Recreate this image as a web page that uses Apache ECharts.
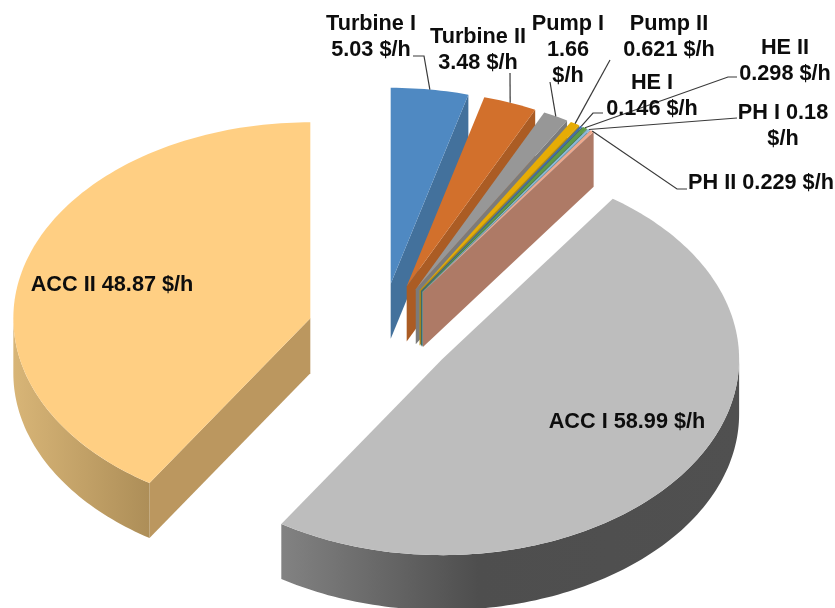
<!DOCTYPE html>
<html>
<head>
<meta charset="utf-8">
<title>Cost rate pie</title>
<script src="https://cdn.jsdelivr.net/npm/echarts@6/dist/echarts.min.js"></script>
<style>
  html, body { margin: 0; padding: 0; background: #fff; }
  #chart { width: 835px; height: 608px; }
</style>
</head>
<body>
<div id="chart"></div>
<script>
// values, clockwise from 12 o'clock
const categories = ['Turbine I', 'Turbine II', 'Pump I', 'Pump II', 'HE I', 'HE II', 'PH I', 'PH II', 'ACC I', 'ACC II']
const costRates = [5.03, 3.48, 1.66, 0.621, 0.146, 0.298, 0.18, 0.229, 58.99, 48.87]
const unit = '$/h'
// how each label wraps: number of words on each line
const labelWraps = [[2, 2], [2, 2], [2, 1, 1], [2, 2], [2, 2], [2, 2], [3, 1], [4], [4], [4]]

const topColors = ['#4f89c2', '#d2702c', '#979797', '#e6ac05', '#3f6cb0', '#5f9b45', '#8ab7dc', '#efa98c', '#bdbdbd', '#ffcf83']
const wallColors = ['#43719c', '#ab5c24', '#7b7b7b', '#b98d05', '#335a90', '#4d7d38', '#7095b2', '#ae7a66', '#6a6a6a', '#bb975f']
const rimStops = {
  8: [[0, '#828282'], [0.43, '#4e4e4e'], [1, '#505050']],
  9: [[0, '#d8b577'], [1, '#ad8e58']]
}

// pie geometry
const cx = 381, cy = 332, rx = 297, ry = 196, depth = 55, explode = 0.248
// label centre and first line middle, then the knee points of each leader line
const labelLayout = [
  { x: 371, y: 24, leader: [[413, 56], [424, 56]] },
  { x: 478, y: 37, leader: [[510, 73]] },
  { x: 568, y: 24, leader: [[550, 82]] },
  { x: 669, y: 24, leader: [[610, 60]] },
  { x: 652, y: 83, leader: [[603, 113], [593, 113]] },
  { x: 785, y: 48, leader: [[737, 77], [728, 77]] },
  { x: 783, y: 113, leader: [[737, 118]] },
  { x: 761, y: 183, leader: [[687, 189], [677, 189]] },
  { x: 627, y: 422, leader: [] },
  { x: 112, y: 285, leader: [] }
]
const lineHeight = 26

const total = costRates.reduce((a, b) => a + b, 0)
const angles = []
let acc = 0
costRates.forEach(v => {
  const start = acc / total * Math.PI * 2
  acc += v
  angles.push([start, acc / total * Math.PI * 2])
})

function centerOf(i) {
  const mid = (angles[i][0] + angles[i][1]) / 2
  return [cx + explode * rx * Math.sin(mid), cy - explode * ry * Math.cos(mid)]
}
function rimPoint(c, a, dy) {
  return [c[0] + rx * Math.sin(a), c[1] - ry * Math.cos(a) + (dy || 0)]
}
function arc(c, a0, a1, dy) {
  const n = Math.max(2, Math.ceil((a1 - a0) / 0.02))
  const pts = []
  for (let k = 0; k <= n; k++) pts.push(rimPoint(c, a0 + (a1 - a0) * k / n, dy))
  return pts
}
function wall(c, a) {
  const p = rimPoint(c, a)
  return [c, p, [p[0], p[1] + depth], [c[0], c[1] + depth]]
}

function renderSlice(params, api) {
  const i = params.dataIndex
  const c = centerOf(i)
  const a0 = angles[i][0], a1 = angles[i][1]
  const children = []
  const poly = (points, fill) => children.push({
    type: 'polygon', shape: { points }, style: { fill, stroke: null }
  })
  if (Math.sin(a1) > 0) poly(wall(c, a1), wallColors[i])
  if (Math.sin(a0) < 0) poly(wall(c, a0), wallColors[i])
  // front rim only exists between 3 and 9 o'clock
  const r0 = Math.max(a0, Math.PI / 2), r1 = Math.min(a1, Math.PI * 1.5)
  if (r1 > r0) {
    const stops = (rimStops[i] || [[0, wallColors[i]], [1, wallColors[i]]])
      .map(s => ({ offset: s[0], color: s[1] }))
    poly(arc(c, r0, r1).concat(arc(c, r0, r1, depth).reverse()),
      new echarts.graphic.LinearGradient(0, 0, 1, 0, stops))
  }
  poly([c].concat(arc(c, a0, a1)), topColors[i])
  return { type: 'group', children }
}

function renderLeader(params, api) {
  const i = params.dataIndex
  const knees = labelLayout[i].leader
  if (!knees.length) return null
  const mid = (angles[i][0] + angles[i][1]) / 2
  return {
    type: 'polyline',
    shape: { points: knees.concat([rimPoint(centerOf(i), mid)]) },
    style: { stroke: '#3a3a3a', lineWidth: 1.2, fill: null }
  }
}

function labelLines(i) {
  const words = (categories[i] + ' ' + costRates[i] + ' ' + unit).split(' ')
  let w = 0
  return labelWraps[i].map(n => {
    const s = words.slice(w, w + n).join(' ')
    w += n
    return s
  })
}

function renderLabel(params, api) {
  const i = params.dataIndex
  const l = labelLayout[i]
  return {
    type: 'group',
    children: labelLines(i).map((t, k) => ({
      type: 'text',
      style: {
        x: l.x, y: l.y + k * lineHeight, text: t,
        align: 'center', verticalAlign: 'middle',
        font: 'bold 21.7px "Liberation Sans", Arial, sans-serif',
        fill: '#0d0d0d'
      }
    }))
  }
}

const chart = echarts.init(document.getElementById('chart'), null, { renderer: 'canvas' })
const seriesData = costRates.map((v, i) => ({ name: categories[i], value: v }))
chart.setOption({
  animation: false,
  backgroundColor: '#fff',
  xAxis: { show: false },
  yAxis: { show: false },
  series: [
    { type: 'custom', coordinateSystem: 'none', silent: true, z: 1, renderItem: renderSlice, data: seriesData },
    { type: 'custom', coordinateSystem: 'none', silent: true, z: 2, renderItem: renderLeader, data: seriesData },
    { type: 'custom', coordinateSystem: 'none', silent: true, z: 3, renderItem: renderLabel, data: seriesData }
  ]
})
</script>
</body>
</html>
